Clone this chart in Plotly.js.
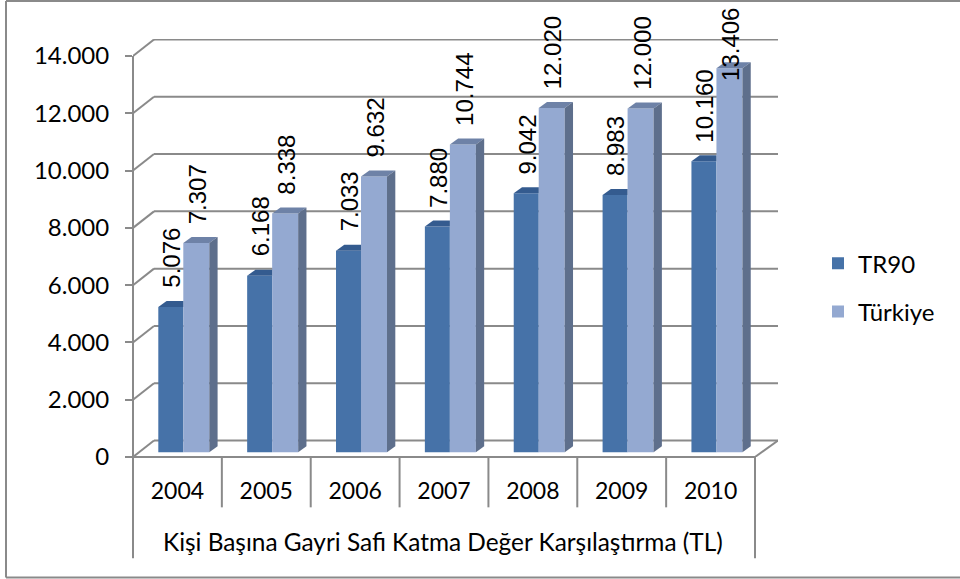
<!DOCTYPE html>
<html><head><meta charset="utf-8">
<script src="https://cdn.plot.ly/plotly-3.0.1.min.js"></script>
<style>html,body{margin:0;padding:0;background:#fff}#c{width:960px;height:579px}</style>
</head><body><div id="c"></div>
<script>
const years = ['2004','2005','2006','2007','2008','2009','2010'];
const tr90 = [5076,6168,7033,7880,9042,8983,10160];
const turkiye = [7307,8338,9632,10744,12020,12000,13406];
const yTicks = [0,2000,4000,6000,8000,10000,12000,14000];
const groupTitle = 'Kişi Başına Gayri Safi Katma Değer Karşılaştırma (TL)';

// pixel geometry of the projected frame
const L=133, R=778, T=39, B=456.7, W=960, H=579;
const catPx = (755-133)/7, valPx = 400.7/14000;
const ux = p => p/catPx, uy = p => p/valPx;
const xMax = ux(R-L), yMax = uy(B-T);
const wallX = ux(21), wallY = uy(16.5), floorEnd = 7;
const barBase = uy(4.7), depthX = ux(8.3), depthY = uy(6);
const lead = ux(25.3), wDark = ux(25), wLight = ux(26);
const grid = '#8a8a8a';
const cDark='#4672a8', cLight='#94a9d1', cDarkTop='#345b8f', cLightTop='#6e82a7', cSide='#5e6f8c';

const leftD = years.map((y,i)=>i+lead);
const leftL = years.map((y,i)=>i+lead+wDark);

const poly = (xs,ys,color)=>({type:'scatter',mode:'lines',x:xs,y:ys,fill:'toself',fillcolor:color,
  line:{width:0,color:color},showlegend:false,hoverinfo:'skip',cliponaxis:false});

const traces = [
 {type:'bar',name:'TR90',x:leftD.map(v=>v+wDark/2),y:tr90,base:barBase,width:wDark,marker:{color:cDark,line:{width:0}},hoverinfo:'x+y',legendgroup:'a'},
 {type:'bar',name:'Türkiye',x:leftL.map(v=>v+wLight/2),y:turkiye,base:barBase,width:wLight,marker:{color:cLight,line:{width:0}},hoverinfo:'x+y',legendgroup:'b'}
];
years.forEach((yr,i)=>{
  const a=leftD[i], b=a+wDark, t=tr90[i]+barBase;
  traces.push(poly([a,a+depthX,b,b,a],[t,t+depthY,t+depthY,t,t],cDarkTop));
  const c=leftL[i], d=c+wLight, s=turkiye[i]+barBase;
  traces.push(poly([c,c+depthX,d+depthX,d,c],[s,s+depthY,s+depthY,s,s],cLightTop));
  traces.push(poly([d,d+depthX,d+depthX,d,d],[s,s+depthY,barBase+depthY,barBase,s],cSide));
});

const fx=p=>(p-L)/(R-L), fy=p=>(B-p)/(B-T);
const paperLine=(x0,y0,x1,y1)=>({type:'line',xref:'paper',yref:'paper',x0:fx(x0),y0:fy(y0),x1:fx(x1),y1:fy(y1),line:{color:grid,width:2}});
// back wall gridlines + left wall diagonals, behind the bars
const shapes=[];
yTicks.forEach(v=>{
  shapes.push({type:'line',layer:'below',xref:'x',yref:'y',x0:0,y0:v,x1:wallX,y1:v+wallY,line:{color:grid,width:2}});
  shapes.push({type:'line',layer:'below',xref:'x',yref:'y',x0:wallX,y0:v+wallY,x1:xMax,y1:v+wallY,line:{color:grid,width:2}});
});
shapes.push({type:'line',layer:'below',xref:'x',yref:'y',x0:floorEnd,y0:0,x1:xMax,y1:wallY,line:{color:grid,width:2}});
// front axis frame and category separators
const x0Px=L, x7Px=L+7*catPx, y0Px=B, yTopPx=B-14000*valPx;
shapes.push(paperLine(x0Px,y0Px,x0Px,yTopPx));
shapes.push(paperLine(x0Px,y0Px,x7Px,y0Px));
shapes.push(paperLine(x0Px,y0Px,x0Px,558));
shapes.push(paperLine(x7Px,y0Px,x7Px,558));
years.forEach((y,i)=>{ if(i>0) shapes.push(paperLine(L+i*catPx,y0Px,L+i*catPx,507)); });
// outer frame (right edge is cropped in the picture)
[[6,1,960,1],[6,1,6,577],[6,577,960,577]].forEach(s=>shapes.push(paperLine(s[0],s[1],s[2],s[3])));

const fmt = v => String(v).replace(/\B(?=(\d{3})+$)/g,'.');
const labelCeil = uy(B-82), labelGap = uy(18), labelNudge = ux(1);
const annotations=[];
[[tr90,leftD,wDark],[turkiye,leftL,wLight]].forEach(([vals,lefts,w])=>{
  vals.forEach((v,i)=>annotations.push({xref:'x',yref:'y',x:lefts[i]+w/2+labelNudge,
    y:Math.min(v+barBase+labelGap,labelCeil),text:fmt(v),showarrow:false,textangle:-90,
    xanchor:'center',yanchor:'bottom',borderpad:0,font:{family:'Liberation Sans',size:24,color:'#000'}}));
});
annotations.push({xref:'paper',yref:'paper',x:fx(442.5),y:fy(541),text:groupTitle,showarrow:false,xanchor:'center',yanchor:'middle',
  font:{family:'Lato',size:24.4,color:'#000'}});

Plotly.newPlot('c',traces,{
  width:W,height:H,autosize:false,showlegend:true,barmode:'overlay',separators:',.',
  paper_bgcolor:'#fff',plot_bgcolor:'rgba(0,0,0,0)',
  margin:{l:L,r:W-R,t:T,b:H-B,pad:0},
  font:{family:'Lato',color:'#000'},
  xaxis:{range:[0,xMax],tickmode:'array',tickvals:years.map((y,i)=>i+0.5),ticktext:years,ticks:'',showgrid:false,zeroline:false,
    showline:false,ticklabelstandoff:18,tickfont:{family:'Lato',size:23,color:'#000'},tickangle:0},
  yaxis:{range:[0,yMax],tickmode:'array',tickvals:yTicks,tickformat:',d',ticks:'outside',ticklen:7,tickwidth:2,tickcolor:grid,
    showgrid:false,zeroline:false,showline:false,ticklabelstandoff:11,tickfont:{family:'Lato',size:24,color:'#000'}},
  legend:{x:fx(818),xanchor:'left',y:fy(241),yanchor:'top',font:{family:'Lato',size:24,color:'#000'},tracegroupgap:14,
    itemclick:false,bgcolor:'rgba(0,0,0,0)'},
  shapes,annotations
},{displayModeBar:false,staticPlot:true});
</script></body></html>
